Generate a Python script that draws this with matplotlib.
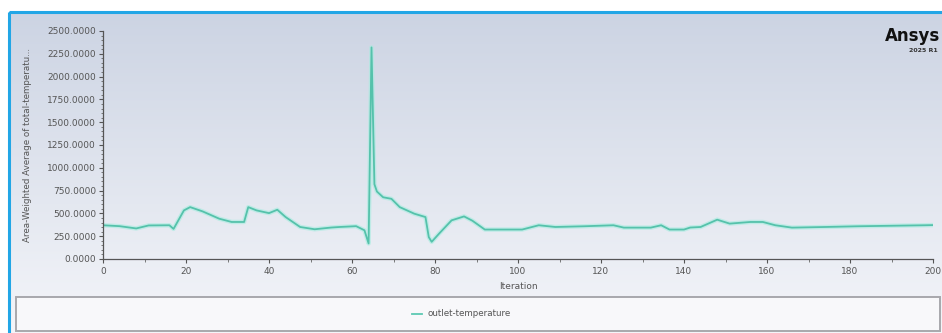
import numpy as np
import matplotlib
matplotlib.use("Agg")
import matplotlib.pyplot as plt
from matplotlib.patches import Rectangle
from matplotlib.ticker import MultipleLocator, FormatStrFormatter

# ---- data ----
iterations = [0, 4, 8, 11, 16, 17, 19.5, 21, 24, 28, 31, 34, 35, 37, 40, 42, 44,
              47.5, 51, 55, 57, 61, 63, 64, 64.7, 65.4, 66, 67.5, 69.5, 71.5, 75,
              77.7, 78.5, 79.2, 81, 84, 87, 89, 92, 101, 105, 109, 116, 123, 125.5,
              132, 134.5, 136.5, 140, 141.5, 144, 148, 151, 156, 159, 162, 166,
              174, 182, 198, 200]
temperature = [370, 360, 335, 368, 370, 330, 533, 569, 522, 442, 406, 406, 569,
               533, 503, 540, 460, 351, 326, 345, 351, 360, 315, 170, 2320, 820,
               740, 677, 660, 569, 497, 460, 240, 188, 279, 424, 467, 420, 323,
               323, 370, 351, 359, 370, 344, 344, 370, 323, 323, 345, 351, 431,
               388, 406, 406, 370, 344, 351, 359, 370, 372]
series_name = "outlet-temperature"
x_label = "Iteration"
y_label = "Area-Weighted Average of total-temperatu..."
x_ticks = [0, 20, 40, 60, 80, 100, 120, 140, 160, 180, 200]
y_ticks = [0, 250, 500, 750, 1000, 1250, 1500, 1750, 2000, 2250, 2500]

W, H = 942, 333
fig = plt.figure(figsize=(W / 100, H / 100), dpi=100)
fig.patch.set_facecolor("white")

# background gradient panel inside blue frame
bg = fig.add_axes([0, 0, 1, 1], zorder=0)
bg.set_xlim(0, W)
bg.set_ylim(H, 0)
bg.axis("off")
top = np.array([0.80, 0.83, 0.89])
bot = np.array([0.96, 0.965, 0.98])
t = np.linspace(0, 1, 256)[:, None]
grad = (top[None, :] * (1 - t) + bot[None, :] * t)[:, None, :]
bg.imshow(grad, extent=(9, W + 5, H + 5, 12), aspect="auto", zorder=0)
bg.add_patch(Rectangle((8.5, 11.5), W, H, fill=False, ec="#22a6e6", lw=2.2, zorder=2))
# legend box
bg.add_patch(Rectangle((16, 297), 940 - 16, 34, fc="#f8f8fa", ec="#a8a8ac", lw=1.4, zorder=2))
bg.plot([412, 422], [313.5, 313.5], color="#5cc9b2", lw=1.3, zorder=3)
bg.text(427, 313.5, series_name, fontsize=6.3, color="#555555", va="center", ha="left", zorder=3)
# logo
bg.text(940, 36, "Ansys", fontsize=12, fontweight="bold", color="#111111",
        va="center", ha="right", zorder=3)
bg.text(938, 50, "2025 R1", fontsize=4.5, fontweight="bold", color="#333333",
        va="center", ha="right", zorder=3)

ax = fig.add_axes([103 / W, 1 - 259 / H, (933 - 103) / W, (259 - 31) / H], zorder=1)
ax.patch.set_alpha(0)
ax.plot(iterations, temperature, color="#a6ece0", lw=3.2, alpha=0.6, solid_joinstyle="round")
ax.plot(iterations, temperature, color="#55c2ab", lw=1.3, solid_joinstyle="round")
ax.set_xlim(0, 200)
ax.set_ylim(0, 2500)
ax.set_xticks(x_ticks)
ax.set_yticks(y_ticks)
ax.xaxis.set_minor_locator(MultipleLocator(10))
ax.yaxis.set_minor_locator(MultipleLocator(50))
ax.yaxis.set_major_formatter(FormatStrFormatter("%.4f"))
for s in ["top", "right"]:
    ax.spines[s].set_visible(False)
for s in ["left", "bottom"]:
    ax.spines[s].set_color("#555555")
    ax.spines[s].set_linewidth(0.9)
ax.tick_params(which="major", length=3, width=0.8, color="#555555",
               labelsize=6.5, labelcolor="#555555", pad=2)
ax.tick_params(which="minor", length=1.8, width=0.6, color="#666666")
ax.tick_params(axis="x", pad=3)
ax.set_xlabel(x_label, fontsize=6.5, color="#555555", labelpad=4)
ax.set_ylabel(y_label, fontsize=6.3, color="#555555", labelpad=11)

fig.savefig("out.png", dpi=100)
